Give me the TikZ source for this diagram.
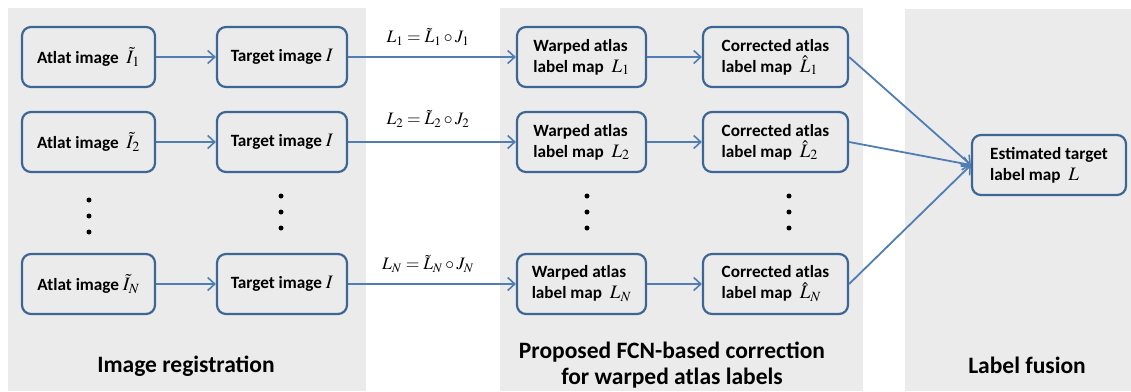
\documentclass[tikz,border=0pt]{standalone}
\usepackage{mathptmx}
\usepackage[no-math]{fontspec}
\setmainfont{Carlito}
\usetikzlibrary{arrows.meta}
\definecolor{panelgray}{RGB}{235,235,235}
\definecolor{boxblue}{RGB}{62,102,148}
\definecolor{arrowblue}{RGB}{79,125,180}
\newcommand{\bxm}[1]{{\fontsize{19}{21}\selectfont$#1$}}
\tikzset{
  panel/.style={fill=panelgray, draw=none},
  box/.style={draw=boxblue, line width=2.2pt, rounded corners=9pt, fill=panelgray,
    minimum height=60pt, inner sep=2pt, align=left,
    font=\fontsize{17.2}{21}\selectfont\bfseries},
  conn/.style={draw=arrowblue, line width=1.8pt, -{Straight Barb[length=7pt,width=13pt,line width=1.6pt]}},
  eqlabel/.style={font=\fontsize{17.5}{20}\selectfont},
  title/.style={font=\fontsize{23.5}{27}\selectfont\bfseries, align=center},
  vdot/.style={circle, fill=black, inner sep=0pt, minimum size=5pt}
}
\begin{document}
\begin{tikzpicture}[x=1pt,y=-1pt]
\useasboundingbox (0,0) rectangle (1131,391);
% panels
\fill[panel] (8,8) rectangle (366,391);
\fill[panel] (500,8) rectangle (863,391);
\fill[panel] (905,9) rectangle (1131,391);

% row 1
\node[box, minimum width=133pt] (a1) at (88.5,57) {Atlat image\ \ \bxm{\tilde{I}_1}};
\node[box, minimum width=130pt] (t1) at (282,57) {Target image \bxm{I}};
\node[box, minimum width=129pt] (w1) at (581.5,57) {Warped atlas\\label map\ \ \bxm{L_1}};
\node[box, minimum width=145pt] (c1) at (775.5,57) {Corrected atlas\\label map\ \ \bxm{\hat{L}_1}};
% row 2
\node[box, minimum width=133pt] (a2) at (88.5,142) {Atlat image\ \ \bxm{\tilde{I}_2}};
\node[box, minimum width=130pt] (t2) at (282,142) {Target image \bxm{I}};
\node[box, minimum width=129pt] (w2) at (581.5,142) {Warped atlas\\label map\ \ \bxm{L_2}};
\node[box, minimum width=145pt] (c2) at (775.5,142) {Corrected atlas\\label map\ \ \bxm{\hat{L}_2}};
% row N
\node[box, minimum width=133pt] (aN) at (88.5,284) {Atlat image \bxm{\tilde{I}_N}};
\node[box, minimum width=130pt] (tN) at (282,284) {Target image \bxm{I}};
\node[box, minimum width=129pt] (wN) at (581.5,284) {Warped atlas\\label map\ \ \bxm{L_N}};
\node[box, minimum width=145pt] (cN) at (775.5,284) {Corrected atlas\\label map\ \ \bxm{\hat{L}_N}};
% fusion
\node[box, minimum width=154pt] (est) at (1049,165) {Estimated target\\label map\ \ \bxm{L}};

% dots
\foreach \x/\y [count=\i] in {89/200, 281/196, 587/196, 789/196}{
  \node[vdot] (d\i a) at (\x,\y) {};
  \node[vdot] (d\i b) at (\x,\y+16) {};
  \node[vdot] (d\i c) at (\x,\y+32) {};
}

% connectors
\foreach \r in {1,2,N}{
  \draw[conn] (a\r) -- (t\r);
  \draw[conn] (t\r) -- (w\r);
  \draw[conn] (w\r) -- (c\r);
  \draw[conn] (c\r.east) -- (est.west);
}

% equations
\node[eqlabel] (e1) at (428,37) {$L_1 = \tilde{L}_1 \circ J_1$};
\node[eqlabel] (e2) at (428,119) {$L_2 = \tilde{L}_2 \circ J_2$};
\node[eqlabel] (eN) at (428,264) {$L_N = \tilde{L}_N \circ J_N$};

% titles
\node[title] (tt1) at (186,366) {Image registration};
\node[title, font=\fontsize{23.5}{26}\selectfont\bfseries] (tt2) at (672,365) {Proposed FCN-based correction\\for warped atlas labels};
\node[title] (tt3) at (1027,365) {Label fusion};
\end{tikzpicture}
\end{document}
